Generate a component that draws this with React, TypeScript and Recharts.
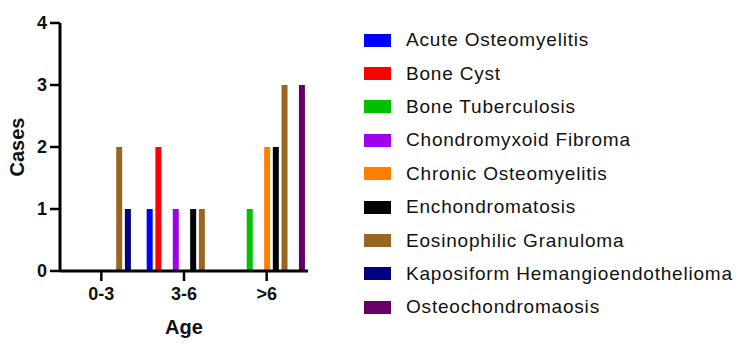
import { BarChart, Bar, XAxis, YAxis } from "recharts";

const ageGroups = ["0-3", "3-6", ">6"];

const diagnoses = [
  "Acute Osteomyelitis",
  "Bone Cyst",
  "Bone Tuberculosis",
  "Chondromyxoid Fibroma",
  "Chronic Osteomyelitis",
  "Enchondromatosis",
  "Eosinophilic Granuloma",
  "Kaposiform Hemangioendothelioma",
  "Osteochondromaosis",
];

const colors = [
  "#0000ff",
  "#ff0000",
  "#00c000",
  "#a000f0",
  "#ff8000",
  "#000000",
  "#996622",
  "#000080",
  "#660066",
];

// cases per age group, one array per diagnosis
const acuteOsteomyelitis = [0, 1, 0];
const boneCyst = [0, 2, 0];
const boneTuberculosis = [0, 0, 1];
const chondromyxoidFibroma = [0, 1, 0];
const chronicOsteomyelitis = [0, 0, 2];
const enchondromatosis = [0, 1, 2];
const eosinophilicGranuloma = [2, 1, 3];
const kaposiformHemangioendothelioma = [1, 0, 0];
const osteochondromaosis = [0, 0, 3];

const yTicks = [0, 1, 2, 3, 4];

const seriesValues = [
  acuteOsteomyelitis,
  boneCyst,
  boneTuberculosis,
  chondromyxoidFibroma,
  chronicOsteomyelitis,
  enchondromatosis,
  eosinophilicGranuloma,
  kaposiformHemangioendothelioma,
  osteochondromaosis,
];

const data = ageGroups.map((age, i) => {
  const row: Record<string, string | number> = { age };
  diagnoses.forEach((name, s) => {
    row[name] = seriesValues[s][i];
  });
  return row;
});

const font = "'Liberation Sans', Arial, sans-serif";

function LegendList() {
  return (
    <div style={{ position: "absolute", left: 364, top: 23.5, fontFamily: font }}>
      {diagnoses.map((name, i) => (
        <div
          key={name}
          style={{ display: "flex", alignItems: "center", height: 33.4 }}
        >
          <div
            style={{ width: 27, height: 13, background: colors[i], marginRight: 15 }}
          />
          <span style={{ fontSize: 19, color: "#111", letterSpacing: 0.8 }}>
            {name}
          </span>
        </div>
      ))}
    </div>
  );
}

export default function App() {
  return (
    <div
      style={{
        position: "absolute",
        left: 0,
        top: 0,
        width: 750,
        height: 345,
        background: "#fff",
      }}
    >
      <BarChart
        width={330}
        height={345}
        data={data}
        margin={{ top: 23, right: 22, bottom: 0, left: 0 }}
        barCategoryGap={4}
        barGap={2.7}
      >
        <XAxis
          dataKey="age"
          height={74}
          axisLine={{ stroke: "#000", strokeWidth: 3 }}
          tickLine={{ stroke: "#000", strokeWidth: 2.5 }}
          tickSize={10}
          tickMargin={6}
          tick={{ fill: "#111", fontSize: 18, fontWeight: 700, fontFamily: font }}
          label={{
            value: "Age",
            position: "insideBottom",
            offset: 11,
            style: { fill: "#111", fontSize: 20, fontWeight: 700, fontFamily: font },
          }}
        />
        <YAxis
          width={60}
          domain={[0, 4]}
          ticks={yTicks}
          allowDecimals={false}
          axisLine={{ stroke: "#000", strokeWidth: 3 }}
          tickLine={{ stroke: "#000", strokeWidth: 2.5 }}
          tickSize={10}
          tickMargin={3}
          tick={{ fill: "#111", fontSize: 18, fontWeight: 700, fontFamily: font }}
          label={{
            value: "Cases",
            angle: -90,
            position: "insideLeft",
            offset: 17,
            style: {
              fill: "#111",
              fontSize: 20,
              fontWeight: 700,
              fontFamily: font,
              textAnchor: "middle",
            },
          }}
        />
        {diagnoses.map((name, i) => (
          <Bar
            key={name}
            dataKey={name}
            fill={colors[i]}
            isAnimationActive={false}
          />
        ))}
      </BarChart>
      <LegendList />
    </div>
  );
}
